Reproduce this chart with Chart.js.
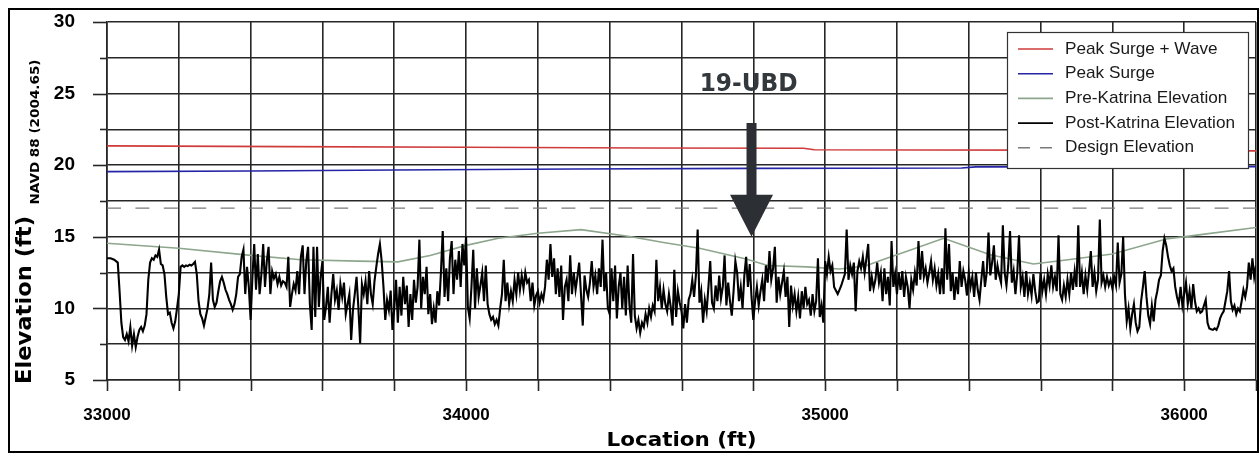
<!DOCTYPE html>
<html>
<head>
<meta charset="utf-8">
<script src="https://cdn.jsdelivr.net/npm/chart.js@4.4.1/dist/chart.umd.min.js"></script>
<style>
  html, body { margin: 0; padding: 0; background: #fff; }
  #wrap { position: relative; width: 1259px; height: 457px; }
</style>
</head>
<body>
<div id="wrap"><canvas id="c" width="1259" height="457"></canvas></div>
<script>
// ---- Series values (location in ft, elevation in ft NAVD 88) ----
const surgeWaveLocation  = [33000, 33500, 34000, 34500, 34940, 34970, 35600, 36200];
const surgeWaveElevation = [21.35, 21.3, 21.25, 21.2, 21.18, 21.08, 21.05, 21.0];

const surgeLocation  = [33000, 33400, 33800, 34300, 34800, 35380, 35420, 36200];
const surgeElevation = [19.55, 19.6, 19.67, 19.73, 19.78, 19.8, 19.88, 19.9];

const preLocation  = [33000, 33200, 33400, 33540, 33700, 33810, 33900, 34000, 34090, 34200,
                      34320, 34460, 34550, 34650, 34780, 34840, 34950, 35040, 35110, 35160,
                      35240, 35330, 35460, 35580, 35660, 35800, 35950, 36030, 36200];
const preElevation = [14.55, 14.2, 13.7, 13.4, 13.3, 13.25, 13.7, 14.4, 14.9, 15.25,
                      15.5, 15.0, 14.6, 14.2, 13.45, 13.0, 12.9, 12.75, 12.95, 13.4,
                      14.1, 14.9, 13.75, 13.1, 13.35, 13.8, 14.85, 15.1, 15.65];

// post-Katrina survey, one reading every 5 ft from 33000 ft
const postStart = 33000;
const postStep = 5;
const postElevation = [
  // 33000
  13.5, 13.5, 13.5, 13.45, 13.4, 13.3, 13.2, 11.2, 9.0, 8.0, 7.8, 8.2, 7.7, 8.7, 7.4, 8.2, 7.3, 8.0, 8.5, 8.7,
  8.4, 8.8, 9.6, 12.0, 13.2, 13.5, 13.4, 13.7, 13.6, 14.1, 13.1, 13.0, 12.4, 10.8, 9.6, 9.7, 9.0, 8.6, 9.1, 10.0,
  // 33200
  11.0, 12.9, 13.0, 12.9, 13.0, 12.95, 13.05, 13.0, 13.1, 13.25, 12.4, 10.5, 9.6, 9.3, 8.8, 9.4, 10.0, 11.0, 13.2, 10.6,
  10.1, 10.4, 11.2, 11.9, 12.2, 11.8, 11.3, 11.0, 10.6, 10.3, 9.9, 10.3, 11.0, 12.2, 12.4, 13.6, 14.1, 11.0, 12.9, 11.5,
  // 33400
  9.2, 12.2, 14.5, 11.3, 13.8, 11.0, 12.4, 14.5, 11.5, 13.3, 14.3, 11.0, 12.6, 12.1, 12.4, 11.7, 12.2, 11.6, 11.9, 11.8,
  11.5, 13.6, 10.1, 11.0, 11.7, 11.25, 12.6, 11.0, 13.6, 14.4, 11.0, 13.3, 14.3, 10.3, 8.5, 14.3, 9.4, 14.3, 10.1, 12.2,
  // 33600
  13.3, 9.2, 10.1, 11.5, 9.0, 11.0, 12.4, 10.6, 11.25, 9.9, 11.7, 10.8, 11.8, 9.6, 10.3, 11.0, 7.8, 9.9, 11.0, 12.2,
  10.1, 7.55, 11.7, 11.0, 11.9, 10.3, 12.6, 11.0, 10.3, 11.9, 12.9, 13.8, 14.5, 13.3, 11.5, 9.2, 10.6, 9.9, 11.25, 8.5,
  // 33800
  10.0, 12.0, 9.0, 11.5, 9.5, 12.2, 10.3, 11.6, 8.7, 11.0, 9.2, 12.0, 10.4, 11.5, 14.8, 10.0, 12.2, 11.0, 12.9, 9.6,
  11.0, 8.9, 10.0, 9.0, 11.2, 10.2, 12.5, 15.4, 10.8, 12.8, 10.5, 13.5, 14.7, 11.0, 13.4, 12.0, 14.0, 11.5, 14.5, 13.0,
  // 34000
  15.0, 10.1, 9.3, 11.5, 14.1, 10.0, 12.8, 10.8, 11.6, 12.5, 10.5, 13.0, 10.3, 9.6, 9.2, 9.4, 8.9, 9.2, 8.8, 10.0,
  11.0, 13.4, 10.5, 11.8, 10.3, 11.2, 10.5, 12.0, 11.0, 12.5, 11.3, 12.3, 11.4, 12.5, 11.8, 12.0, 10.5, 11.8, 10.2, 10.9,
  // 34200
  11.2, 10.4, 11.0, 10.6, 11.5, 13.4, 12.0, 14.5, 12.2, 13.5, 11.0, 12.8, 10.8, 13.0, 9.2, 11.5, 12.0, 10.5, 13.7, 11.0,
  12.5, 11.3, 12.2, 13.2, 11.0, 8.8, 12.3, 11.3, 10.8, 11.8, 13.3, 11.5, 12.3, 11.0, 12.8, 11.5, 14.8, 11.2, 12.5, 10.0,
  // 34400
  9.6, 12.8, 10.5, 13.0, 9.3, 11.5, 12.5, 10.0, 12.2, 9.5, 13.0, 10.2, 9.0, 13.8, 9.5, 8.6, 9.2, 8.3, 9.0, 8.7,
  9.6, 9.0, 10.0, 9.4, 10.2, 9.8, 13.4, 10.5, 11.5, 10.0, 11.3, 10.3, 9.8, 11.0, 10.1, 8.8, 12.7, 9.4, 11.2, 10.4,
  // 34600
  9.8, 8.6, 10.3, 9.0, 10.6, 11.0, 12.0, 10.8, 12.3, 15.5, 10.4, 11.2, 9.0, 10.6, 9.8, 11.5, 13.3, 10.4, 10.0, 11.6,
  10.5, 12.3, 10.7, 11.5, 13.7, 10.2, 11.8, 10.5, 9.5, 11.2, 13.3, 12.5, 10.5, 11.5, 10.0, 12.3, 13.6, 11.5, 13.1, 10.8,
  // 34800
  9.2, 10.5, 11.5, 10.2, 11.2, 12.0, 10.5, 13.0, 11.8, 14.0, 12.0, 12.8, 14.3, 10.4, 12.2, 11.0, 11.8, 12.6, 10.8, 12.2,
  8.7, 11.6, 10.2, 11.0, 9.8, 10.8, 9.3, 11.2, 10.0, 11.5, 10.3, 10.6, 9.5, 11.0, 9.8, 10.5, 13.5, 9.4, 10.2, 9.0,
  // 35000
  13.3, 12.4, 13.6, 12.6, 13.0, 11.5, 11.25, 11.0, 11.3, 11.6, 12.0, 12.4, 15.5, 12.0, 13.0, 12.4, 13.2, 9.8, 12.6, 13.3,
  12.8, 13.6, 12.5, 13.5, 14.5, 11.2, 12.2, 11.4, 12.0, 13.2, 11.8, 12.5, 10.5, 12.8, 11.0, 12.2, 10.2, 14.7, 11.5, 12.4,
  // 35200
  11.0, 12.5, 11.3, 12.6, 10.8, 12.2, 11.5, 10.0, 12.0, 11.3, 12.5, 11.6, 14.7, 12.0, 14.0, 12.2, 12.8, 11.8, 12.5, 13.3,
  12.0, 12.8, 11.6, 12.4, 11.0, 12.8, 11.0, 15.6, 12.0, 14.5, 11.2, 12.5, 10.6, 12.2, 11.0, 13.3, 11.5, 12.6, 12.0, 10.9,
  // 35400
  12.5, 11.5, 12.2, 10.8, 12.5, 11.3, 10.6, 12.0, 13.3, 11.5, 12.5, 15.3, 12.3, 13.2, 14.4, 12.0, 13.0, 12.3, 11.8, 15.8,
  12.5, 11.6, 13.0, 15.4, 11.8, 12.6, 11.0, 12.4, 15.1, 11.5, 12.2, 10.8, 12.6, 11.0, 11.8, 10.9, 12.4, 11.2, 10.4, 10.5,
  // 35600
  12.5, 11.2, 12.0, 11.0, 12.4, 11.6, 13.0, 11.5, 12.2, 11.2, 15.1, 11.0, 10.6, 11.6, 10.8, 12.0, 11.0, 12.5, 11.3, 12.6,
  11.5, 15.8, 11.5, 12.5, 11.0, 12.3, 11.3, 12.6, 14.0, 11.5, 12.5, 11.2, 12.0, 16.2, 11.8, 12.3, 11.5, 12.2, 11.6, 12.0,
  // 35800
  11.4, 12.2, 11.6, 14.6, 11.8, 12.4, 15.0, 11.0, 9.1, 10.0, 8.6, 9.6, 10.3, 9.0, 8.4, 8.7, 10.5, 11.5, 12.6, 10.8,
  9.5, 8.9, 10.2, 9.1, 10.6, 11.2, 12.0, 12.3, 14.0, 14.9, 14.4, 13.6, 13.0, 12.6, 12.8, 11.5, 10.8, 10.3, 11.5, 10.2,
  // 36000
  11.0, 11.8, 10.3, 11.2, 10.0, 11.7, 10.5, 9.8, 10.0, 9.7, 9.8, 10.2, 10.6, 9.0, 8.6, 8.55, 8.5, 8.6, 8.5, 8.8,
  9.3, 9.6, 9.8, 10.5, 11.2, 12.6, 10.5, 9.9, 10.2, 9.6, 10.0, 9.8, 10.5, 11.3, 10.8, 11.5, 13.2, 12.0, 13.5, 12.2,
  13.0
];

const designLocation  = [33000, 36200];
const designElevation = [17, 17];

// ---- Axis tick labels ----
const xTickLabels = [33000, 34000, 35000, 36000];
const yTickLabels = [5, 10, 15, 20, 25, 30];

// ---- Series names ----
const seriesNames = ['Peak Surge + Wave', 'Peak Surge', 'Pre-Katrina Elevation', 'Post-Katrina Elevation', 'Design Elevation'];

// ---- Station marker ----
const markerLabel = '19-UBD';
const markerLocation = 34795;
const markerTop = 22.95;
const markerTip = 15.0;
const markerLabelElevation = 25.6;

// ---------------------------------------------------------------
const zip = (xs, ys) => xs.map((x, i) => ({ x, y: ys[i] }));
const postLocation = postElevation.map((_, i) => postStart + i * postStep);

const FONT = '"Liberation Sans", Arial, sans-serif';
const BOLD = '"DejaVu Sans", Verdana, sans-serif';
const GRID = '#262626';

// text squeezed/stretched to a given length along its baseline
function fitText(ctx, text, cx, cy, font, length, angle, color) {
  ctx.save();
  ctx.font = font;
  ctx.fillStyle = color || '#000';
  const w = ctx.measureText(text).width;
  ctx.translate(cx, cy);
  if (angle) ctx.rotate(angle);
  ctx.scale(length / w, 1);
  ctx.textAlign = 'center';
  ctx.textBaseline = 'middle';
  ctx.fillText(text, 0, 0);
  ctx.restore();
}

const decorations = {
  id: 'decorations',
  beforeDraw(chart) {
    const { ctx } = chart;
    ctx.save();
    ctx.fillStyle = '#fff';
    ctx.fillRect(0, 0, chart.width, chart.height);
    ctx.restore();
  },
  afterDraw(chart) {
    const { ctx, chartArea: a, scales: { x, y } } = chart;
    ctx.save();
    ctx.strokeStyle = GRID;
    ctx.lineWidth = 1.6;
    // outside tick marks
    y.ticks.forEach(t => {
      const py = Math.round(y.getPixelForValue(t.value)) + 0.5;
      const len = yTickLabels.includes(t.value) ? 14 : 7;
      ctx.beginPath(); ctx.moveTo(a.left - len, py); ctx.lineTo(a.left, py); ctx.stroke();
    });
    x.ticks.forEach(t => {
      const px = Math.round(x.getPixelForValue(t.value)) + 0.5;
      ctx.beginPath(); ctx.moveTo(px, a.bottom); ctx.lineTo(px, a.bottom + 11); ctx.stroke();
    });

    // outer frame
    ctx.strokeStyle = '#000';
    ctx.lineWidth = 2;
    ctx.strokeRect(9, 9, 1249, 443);

    // axis titles
    fitText(ctx, 'Elevation (ft)', 25.5, 300, 'bold 22px ' + BOLD, 168, -Math.PI / 2, '#000');
    fitText(ctx, 'NAVD 88 (2004.65)', 36, 132, 'bold 12.5px ' + BOLD, 145, -Math.PI / 2, '#000');
    fitText(ctx, 'Location (ft)', (a.left + a.right) / 2, 441, 'bold 20px ' + BOLD, 150, 0, '#000');

    // station marker
    const mx = x.getPixelForValue(markerLocation);
    const yTop = y.getPixelForValue(markerTop);
    const yTip = y.getPixelForValue(markerTip);
    const headLen = 42, headHalf = 21.5, shaftHalf = 5;
    ctx.fillStyle = '#2c3035';
    ctx.beginPath();
    ctx.moveTo(mx - shaftHalf, yTop);
    ctx.lineTo(mx + shaftHalf, yTop);
    ctx.lineTo(mx + shaftHalf, yTip - headLen);
    ctx.lineTo(mx + headHalf, yTip - headLen);
    ctx.lineTo(mx, yTip);
    ctx.lineTo(mx - headHalf, yTip - headLen);
    ctx.lineTo(mx - shaftHalf, yTip - headLen);
    ctx.closePath();
    ctx.fill();
    fitText(ctx, markerLabel, x.getPixelForValue(34787), y.getPixelForValue(markerLabelElevation),
            'bold 24px ' + BOLD, 98, 0, '#33383d');

    // legend box
    const lx = 1007, ly = 32, lw = 241, lh = 136;
    ctx.fillStyle = '#fff';
    ctx.fillRect(lx, ly, lw, lh);
    ctx.strokeStyle = '#333';
    ctx.lineWidth = 1.2;
    ctx.strokeRect(lx + 0.5, ly + 0.5, lw, lh);
    ctx.font = '17px ' + FONT;
    const ref = ctx.measureText('Post-Katrina Elevation').width;
    const sx = 170 / ref;
    chart.data.datasets.forEach((ds, i) => {
      const iy = 49 + i * 24.7;
      ctx.save();
      ctx.strokeStyle = ds.borderColor;
      ctx.lineWidth = 1.6;
      ctx.setLineDash(ds.borderDash && ds.borderDash.length ? [12, 10] : []);
      ctx.beginPath(); ctx.moveTo(1018, iy); ctx.lineTo(1053, iy); ctx.stroke();
      ctx.restore();
      ctx.save();
      ctx.font = '17px ' + FONT;
      ctx.fillStyle = '#1a1a1a';
      ctx.textBaseline = 'middle';
      ctx.translate(1065, iy);
      ctx.scale(sx, 1);
      ctx.fillText(ds.label, 0, 0);
      ctx.restore();
    });
    ctx.restore();
  }
};

new Chart(document.getElementById('c'), {
  type: 'line',
  data: {
    datasets: [
      { label: seriesNames[0], data: zip(surgeWaveLocation, surgeWaveElevation),
        borderColor: '#cf3b3b', borderWidth: 1.6, pointRadius: 0, order: 1 },
      { label: seriesNames[1], data: zip(surgeLocation, surgeElevation),
        borderColor: '#2424a6', borderWidth: 1.6, pointRadius: 0, order: 1 },
      { label: seriesNames[2], data: zip(preLocation, preElevation),
        borderColor: '#8da68d', borderWidth: 1.6, pointRadius: 0, order: 2 },
      { label: seriesNames[3], data: zip(postLocation, postElevation),
        borderColor: '#000000', borderWidth: 2.1, pointRadius: 0, order: 0 },
      { label: seriesNames[4], data: zip(designLocation, designElevation),
        borderColor: '#7a7a7a', borderWidth: 1.3, borderDash: [14, 14.4], pointRadius: 0, order: 1 }
    ]
  },
  options: {
    responsive: false,
    animation: false,
    devicePixelRatio: 1,
    layout: { padding: { left: 0, top: 22, right: 3, bottom: 0 } },
    plugins: { legend: { display: false }, tooltip: { enabled: false } },
    elements: { line: { tension: 0 } },
    scales: {
      x: {
        type: 'linear', min: 33000, max: 36200,
        afterFit: s => { s.height = 77; s.paddingLeft = 0; s.paddingRight = 0; },
        grid: { color: GRID, lineWidth: 1.6, drawTicks: false },
        border: { color: GRID, width: 1.6 },
        ticks: {
          stepSize: 200, autoSkip: false, maxRotation: 0, padding: 25,
          color: '#000', font: { family: FONT, weight: 'bold', size: 17 },
          callback: v => xTickLabels.includes(v) ? String(v) : ''
        }
      },
      y: {
        type: 'linear', min: 5, max: 30,
        afterFit: s => { s.width = 107; s.paddingTop = 0; s.paddingBottom = 0; },
        grid: { color: GRID, lineWidth: 1.6, drawTicks: false },
        border: { color: GRID, width: 1.6 },
        ticks: {
          stepSize: 2.5, autoSkip: false, padding: 32,
          color: '#000', font: { family: FONT, weight: 'bold', size: 19 },
          callback: v => yTickLabels.includes(v) ? String(v) : ''
        }
      }
    }
  },
  plugins: [decorations]
});
</script>
</body>
</html>
